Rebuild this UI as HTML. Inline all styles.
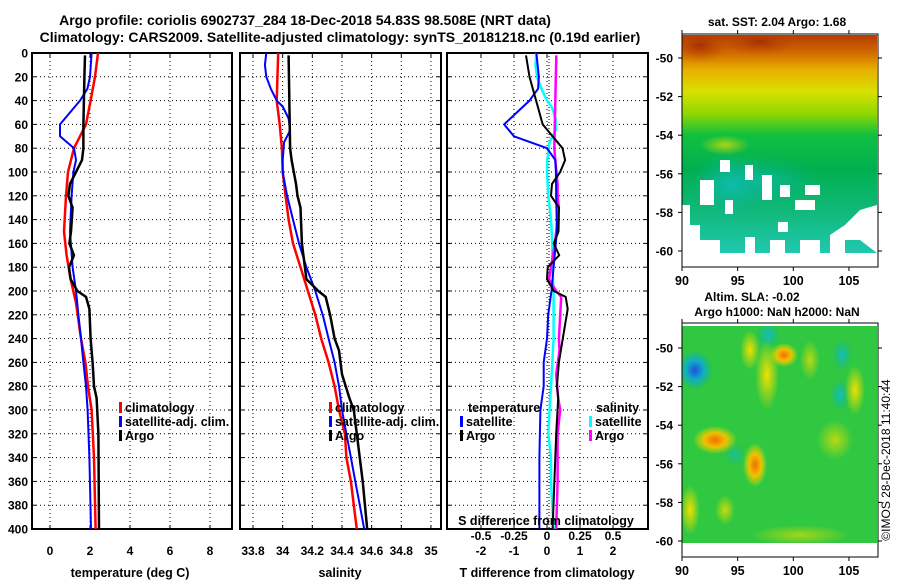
<!DOCTYPE html>
<html><head><meta charset="utf-8">
<style>
html,body{margin:0;padding:0;background:#fff;}
svg{display:block;font-family:"Liberation Sans",sans-serif;font-weight:bold;}
</style></head>
<body>
<svg id="fig" width="900" height="580" viewBox="0 0 900 580" xmlns="http://www.w3.org/2000/svg">
<defs>
<clipPath id="clip1"><rect x="682" y="35" width="195" height="218"/></clipPath>
<clipPath id="clip2"><rect x="682" y="326" width="195" height="217"/></clipPath>
<linearGradient id="sstGrad" x1="0" y1="0" x2="0" y2="1">
<stop offset="0" stop-color="#b83a00"/>
<stop offset="0.08" stop-color="#d06a00"/>
<stop offset="0.16" stop-color="#e8b000"/>
<stop offset="0.26" stop-color="#d8e000"/>
<stop offset="0.36" stop-color="#90d800"/>
<stop offset="0.46" stop-color="#10c040"/>
<stop offset="0.62" stop-color="#00b050"/>
<stop offset="0.8" stop-color="#10b878"/>
<stop offset="1" stop-color="#20c8b0"/>
</linearGradient>
<radialGradient id="blobY"><stop offset="0" stop-color="#f0e000"/><stop offset="1" stop-color="#f0e000" stop-opacity="0"/></radialGradient>
<radialGradient id="blobO"><stop offset="0" stop-color="#f07000"/><stop offset="0.5" stop-color="#f0c000"/><stop offset="1" stop-color="#e0e000" stop-opacity="0"/></radialGradient>
<radialGradient id="blobB"><stop offset="0" stop-color="#2050e0"/><stop offset="0.5" stop-color="#10b0c0"/><stop offset="1" stop-color="#10b0a0" stop-opacity="0"/></radialGradient>
<radialGradient id="blobC"><stop offset="0" stop-color="#10c0c0"/><stop offset="1" stop-color="#10b0a0" stop-opacity="0"/></radialGradient>
<radialGradient id="blobR"><stop offset="0" stop-color="#a83000"/><stop offset="1" stop-color="#c05000" stop-opacity="0"/></radialGradient>
</defs>

<text x="305" y="25" font-size="14" text-anchor="middle">Argo profile: coriolis 6902737_284 18-Dec-2018 54.83S 98.508E (NRT data)</text>
<text x="340" y="42" font-size="14" text-anchor="middle">Climatology: CARS2009. Satellite-adjusted climatology: synTS_20181218.nc (0.19d earlier)</text>

<g id="p1"></g>
<g id="p2"></g>
<g id="p3"></g>

<g>
<text x="777" y="26" font-size="12" text-anchor="middle">sat. SST: 2.04 Argo: 1.68</text>
<g clip-path="url(#clip1)">
<rect x="682" y="35" width="195" height="218" fill="url(#sstGrad)"/>
<ellipse cx="700" cy="45" rx="30" ry="18" fill="url(#blobR)"/>
<ellipse cx="760" cy="42" rx="40" ry="14" fill="url(#blobR)"/>
<ellipse cx="760" cy="180" rx="60" ry="25" fill="url(#blobC)" opacity="0.6"/>
<ellipse cx="730" cy="185" rx="40" ry="35" fill="url(#blobC)" opacity="0.7"/>
<ellipse cx="725" cy="145" rx="25" ry="10" fill="url(#blobY)" opacity="0.7"/>
<g fill="#fff">
<polygon points="682,253 682,205 690,205 690,225 700,225 700,240 720,240 720,253"/>
<polygon points="830,253 830,235 845,225 860,210 877,205 877,253 860,240 845,240 845,253"/>
<rect x="725" y="200" width="8" height="14"/><rect x="700" y="180" width="14" height="25"/>
<rect x="720" y="160" width="10" height="12"/><rect x="762" y="175" width="10" height="25"/>
<rect x="780" y="185" width="10" height="12"/><rect x="805" y="185" width="15" height="10"/>
<rect x="795" y="200" width="20" height="10"/><rect x="745" y="165" width="8" height="15"/>
<rect x="778" y="222" width="10" height="10"/><rect x="745" y="237" width="10" height="16"/>
<rect x="770" y="240" width="15" height="13"/><rect x="800" y="240" width="20" height="13"/>
<rect x="862" y="228" width="15" height="10"/><rect x="832" y="245" width="10" height="8"/>
</g>
</g>
<rect x="682" y="34" width="196" height="233" fill="none" stroke="#000" stroke-width="1"/>
</g>

<g>
<text x="752" y="301" font-size="12" text-anchor="middle">Altim. SLA: -0.02</text>
<text x="777" y="316" font-size="12" text-anchor="middle">Argo h1000: NaN h2000: NaN</text>
<g clip-path="url(#clip2)">
<rect x="682" y="326" width="195" height="217" fill="#30c840"/>
<ellipse cx="695" cy="370" rx="18" ry="20" fill="url(#blobB)"/>
<ellipse cx="768" cy="335" rx="12" ry="14" fill="url(#blobC)"/>
<ellipse cx="842" cy="355" rx="10" ry="16" fill="url(#blobC)"/>
<ellipse cx="840" cy="395" rx="10" ry="16" fill="url(#blobC)"/>
<ellipse cx="750" cy="350" rx="10" ry="20" fill="url(#blobY)"/>
<ellipse cx="767" cy="375" rx="12" ry="35" fill="url(#blobY)"/>
<ellipse cx="784" cy="355" rx="14" ry="12" fill="url(#blobO)"/>
<ellipse cx="715" cy="440" rx="22" ry="14" fill="url(#blobO)"/>
<ellipse cx="755" cy="465" rx="12" ry="22" fill="url(#blobO)"/>
<ellipse cx="835" cy="440" rx="18" ry="20" fill="url(#blobY)" opacity="0.7"/>
<ellipse cx="855" cy="390" rx="10" ry="25" fill="url(#blobY)"/>
<ellipse cx="810" cy="360" rx="10" ry="20" fill="url(#blobY)" opacity="0.7"/>
<ellipse cx="690" cy="510" rx="10" ry="25" fill="url(#blobY)"/>
<ellipse cx="725" cy="510" rx="10" ry="15" fill="url(#blobY)" opacity="0.8"/>
<ellipse cx="800" cy="535" rx="50" ry="10" fill="url(#blobY)" opacity="0.6"/>
<ellipse cx="735" cy="455" rx="10" ry="12" fill="url(#blobC)" opacity="0.7"/>
</g>
<rect x="682" y="323" width="196" height="234" fill="none" stroke="#000" stroke-width="1"/>
<text transform="translate(890,460) rotate(-90)" font-size="12" font-weight="normal" text-anchor="middle">©IMOS 28-Dec-2018 11:40:44</text>
</g>
<g id="maxes"></g>
</svg>

<script>
var tClimDepth = [0,20,40,60,70,80,100,120,150,170,190,210,240,260,280,300,340,400];
var tClimVal   = [2.4,2.25,2.03,1.8,1.5,1.2,0.9,0.8,0.7,0.83,1.03,1.3,1.55,1.77,1.9,2.08,2.2,2.28];
var tSatDepth  = [0,20,30,40,50,60,70,80,90,100,120,150,180,200,220,240,260,280,300,340,400];
var tSatVal    = [2.08,2.0,1.87,1.5,1.0,0.5,0.5,1.2,1.3,1.17,1.08,1.0,1.13,1.3,1.42,1.55,1.67,1.8,1.88,1.97,2.05];
var tArgoDepth = [2,20,60,80,90,100,110,120,130,150,160,170,180,190,200,205,215,240,260,280,290,320,400];
var tArgoVal   = [1.75,1.72,1.67,1.67,1.6,1.3,1.0,0.92,1.13,1.05,0.97,1.2,0.95,1.03,1.37,1.8,1.97,2.03,2.13,2.2,2.33,2.42,2.45];

var sClimDepth = [0,40,60,80,100,120,140,160,180,200,220,240,260,280,300,320,340,360,380,400];
var sClimVal   = [33.97,33.96,33.98,33.995,34.0,34.02,34.04,34.07,34.12,34.17,34.22,34.26,34.31,34.35,34.38,34.42,34.43,34.46,34.48,34.5];
var sSatDepth  = [0,10,20,30,40,45,55,65,75,90,100,120,140,160,180,200,220,240,260,280,300,320,340,360,380,400];
var sSatVal    = [33.89,33.88,33.89,33.92,33.96,34.0,34.04,34.05,34.01,34.0,34.0,34.03,34.07,34.11,34.16,34.22,34.27,34.31,34.35,34.38,34.4,34.43,34.46,34.49,34.52,34.55];
var sArgoDepth = [2,80,90,110,120,130,160,180,190,200,205,220,240,250,270,290,300,320,360,400];
var sArgoVal   = [34.04,34.05,34.06,34.09,34.1,34.12,34.13,34.15,34.16,34.24,34.29,34.32,34.35,34.38,34.4,34.45,34.48,34.5,34.54,34.57];

var depthTicks = [0,20,40,60,80,100,120,140,160,180,200,220,240,260,280,300,320,340,360,380,400];
var tTicks = [0,2,4,6,8];
var sTicks = [33.8,34,34.2,34.4,34.6,34.8,35];
var dtTicks = [-2,-1,0,1,2];
var dsTicks = [-0.5,-0.25,0,0.25,0.5];
var dsTickLabels = ["-0.5","-0.25","0","0.25","0.5"];
var latTicks = [-50,-52,-54,-56,-58,-60];
var lonTicks = [90,95,100,105];

var NS = "http://www.w3.org/2000/svg";
function mk(tag, parent, attrs){ var e=document.createElementNS(NS,tag); for(var k in attrs) e.setAttribute(k,attrs[k]); parent.appendChild(e); return e; }
var TOP=53, BOT=529;
function yD(d){ return TOP + d*(BOT-TOP)/400; }
function interp(ds, vs, d){
  if(d <= ds[0]) return vs[0];
  for(var i=1;i<ds.length;i++){ if(d <= ds[i]){ var f=(d-ds[i-1])/(ds[i]-ds[i-1]); return vs[i-1]+f*(vs[i]-vs[i-1]); } }
  return vs[vs.length-1];
}
function drawLine(g, ds, vs, xf, color, w, name){
  var pts = ds.map(function(d,i){ return xf(vs[i]).toFixed(1)+","+yD(d).toFixed(1); }).join(" ");
  var p = mk("polyline", g, {points:pts, fill:"none", stroke:color, "stroke-width":w, "stroke-linejoin":"round"});
  
  
}
function frame(g, x0, x1, xTicks, xf, labels, showY){
  depthTicks.forEach(function(d){
    if(d>0 && d<400) mk("line", g, {x1:x0, x2:x1, y1:yD(d), y2:yD(d), stroke:"#000", "stroke-width":1, "stroke-dasharray":"1,3"});
    mk("line", g, {x1:x0, x2:x0+4, y1:yD(d), y2:yD(d), stroke:"#000"});
    mk("line", g, {x1:x1-4, x2:x1, y1:yD(d), y2:yD(d), stroke:"#000"});
    if(showY){
      var t = mk("text", g, {x:28, y:yD(d)+4.5, "font-size":12, "text-anchor":"end"});
      t.textContent = d;
      
      
    }
  });
  xTicks.forEach(function(v,i){
    var x = xf(v);
    mk("line", g, {x1:x, x2:x, y1:TOP, y2:BOT, stroke:"#000", "stroke-width":1, "stroke-dasharray":"1,3"});
    mk("line", g, {x1:x, x2:x, y1:BOT-4, y2:BOT, stroke:"#000"});
    mk("line", g, {x1:x, x2:x, y1:TOP, y2:TOP+4, stroke:"#000"});
    var t = mk("text", g, {x:x, y:BOT+26, "font-size":12, "text-anchor":"middle"});
    t.textContent = labels[i];
    
    
  });
  mk("rect", g, {x:x0, y:TOP, width:x1-x0, height:BOT-TOP, fill:"none", stroke:"#000", "stroke-width":2});
}
function legend(g, x, y, color, label){
  mk("rect", g, {x:x, y:y-10, width:3, height:11, fill:color});
  var t = mk("text", g, {x:x+6, y:y, "font-size":12.5});
  t.textContent = label;
  
  
}
function axTitle(g, x, y, s){
  var t = mk("text", g, {x:x, y:y, "font-size":12.5, "text-anchor":"middle"});
  t.textContent = s;
  
  
}

var g1 = document.getElementById("p1");
function xT(v){ return 50 + 20*v; }
frame(g1, 32, 232, tTicks, xT, tTicks.map(String), true);
drawLine(g1, tClimDepth, tClimVal, xT, "#ff0000", 2.5, "temp-climatology-line");
drawLine(g1, tSatDepth, tSatVal, xT, "#0000ff", 2, "temp-satellite-line");
drawLine(g1, tArgoDepth, tArgoVal, xT, "#000000", 2.5, "temp-argo-line");
legend(g1, 119, 412, "#ff0000", "climatology");
legend(g1, 119, 426, "#0000ff", "satellite-adj. clim.");
legend(g1, 119, 440, "#000000", "Argo");
axTitle(g1, 130, 577, "temperature (deg C)");

var g2 = document.getElementById("p2");
function xS(v){ return 253 + (v-33.8)*148.3; }
frame(g2, 240, 441, sTicks, xS, sTicks.map(String), false);
drawLine(g2, sClimDepth, sClimVal, xS, "#ff0000", 2.5, "sal-climatology-line");
drawLine(g2, sSatDepth, sSatVal, xS, "#0000ff", 2, "sal-satellite-line");
drawLine(g2, sArgoDepth, sArgoVal, xS, "#000000", 2.5, "sal-argo-line");
legend(g2, 329, 412, "#ff0000", "climatology");
legend(g2, 329, 426, "#0000ff", "satellite-adj. clim.");
legend(g2, 329, 440, "#000000", "Argo");
axTitle(g2, 340, 577, "salinity");

var g3 = document.getElementById("p3");
function xDT(v){ return 547 + 33*v; }
function xDS(v){ return 547 + 132*v; }
frame(g3, 447, 648, dtTicks, xDT, dtTicks.map(String), false);
mk("line", g3, {x1:549, x2:549, y1:TOP, y2:BOT, stroke:"#000", "stroke-dasharray":"1,2"});
function diff(ds, vs, cds, cvs){ return ds.map(function(d,i){ return vs[i]-interp(cds,cvs,d); }); }
drawLine(g3, sSatDepth, diff(sSatDepth,sSatVal,sClimDepth,sClimVal), xDS, "#00ffff", 2.5, "sal-diff-satellite-line");
drawLine(g3, sArgoDepth, diff(sArgoDepth,sArgoVal,sClimDepth,sClimVal), xDS, "#ff00ff", 2.5, "sal-diff-argo-line");
drawLine(g3, tSatDepth, diff(tSatDepth,tSatVal,tClimDepth,tClimVal), xDT, "#0000ff", 2, "temp-diff-satellite-line");
drawLine(g3, tArgoDepth, diff(tArgoDepth,tArgoVal,tClimDepth,tClimVal), xDT, "#000000", 2, "temp-diff-argo-line");
var tt = mk("text", g3, {x:468, y:412, "font-size":12.5});
tt.textContent="temperature";


legend(g3, 460, 426, "#0000ff", "satellite");
legend(g3, 460, 440, "#000000", "Argo");
var ts = mk("text", g3, {x:596, y:412, "font-size":12.5});
ts.textContent="salinity";


legend(g3, 589, 426, "#00ffff", "satellite");
legend(g3, 589, 440, "#ff00ff", "Argo");
var sdt = mk("text", g3, {x:546, y:525, "font-size":12.5, "text-anchor":"middle"});
sdt.textContent="S difference from climatology";


dsTicks.forEach(function(v,i){
  var t = mk("text", g3, {x:xDS(v), y:540, "font-size":12, "text-anchor":"middle"});
  t.textContent = dsTickLabels[i];
  
  
});
axTitle(g3, 547, 577, "T difference from climatology");

var gm = document.getElementById("maxes");
function mapAxes(latTop, latBottom, labY, boxTop, boxBot){
  latTicks.forEach(function(l){
    var y = latTop + (-50 - l)*(latBottom-latTop)/10;
    mk("line", gm, {x1:678, x2:682, y1:y, y2:y, stroke:"#000"});
    mk("line", gm, {x1:878, x2:882, y1:y, y2:y, stroke:"#000"});
    var t = mk("text", gm, {x:673, y:y+4.5, "font-size":12, "text-anchor":"end"});
    t.textContent = l;
    
    
  });
  lonTicks.forEach(function(lo){
    var x = 682 + (lo-90)*11.13;
    mk("line", gm, {x1:x, x2:x, y1:boxBot, y2:boxBot+4, stroke:"#000"});
    mk("line", gm, {x1:x, x2:x, y1:boxTop-4, y2:boxTop, stroke:"#000"});
    var t = mk("text", gm, {x:x, y:labY, "font-size":12.5, "text-anchor":"middle"});
    t.textContent = lo;
    
    
  });
}
mapAxes(58, 251, 285, 34, 267);
mapAxes(348, 541, 575, 323, 557);
</script>
</body></html>
